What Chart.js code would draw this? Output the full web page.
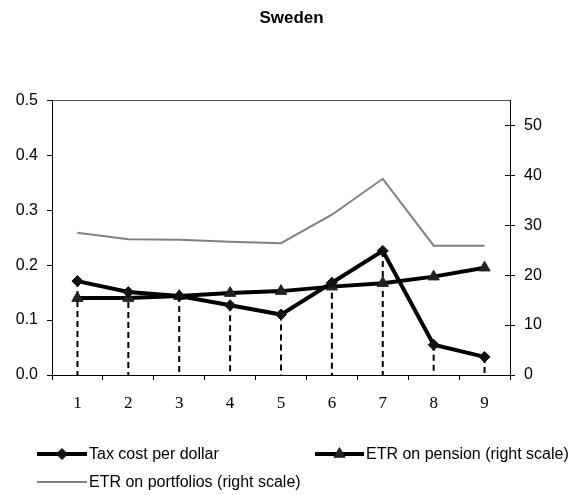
<!DOCTYPE html>
<html>
<head>
<meta charset="utf-8">
<script src="https://cdn.jsdelivr.net/npm/chart.js@4/dist/chart.umd.min.js"></script>
<style>
  html, body { margin: 0; padding: 0; background: #ffffff; }
  #wrap { width: 583px; height: 495px; }
</style>
</head>
<body>
<div id="wrap"><canvas id="c" width="583" height="495"></canvas></div>
<script>
// Categories along the horizontal axis
const categories = ['1', '2', '3', '4', '5', '6', '7', '8', '9'];
// Left scale: tax cost per dollar
const taxCost = [0.171, 0.151, 0.144, 0.127, 0.110, 0.168, 0.226, 0.055, 0.033];
// Right scale: effective tax rates (%)
const etrPension = [15.4, 15.4, 15.8, 16.4, 16.8, 17.7, 18.4, 19.7, 21.5];
const etrPortfolios = [28.5, 27.2, 27.1, 26.7, 26.4, 32.1, 39.3, 25.9, 25.9];
// Axis tick values
const leftTicks = [0, 0.1, 0.2, 0.3, 0.4, 0.5];
const rightTicks = [0, 10, 20, 30, 40, 50];

const SANS = "'Liberation Sans', Arial, Helvetica, sans-serif";
const SERIF = "'Liberation Serif', 'Times New Roman', serif";

// Dashed drop lines from each tax-cost point down to the horizontal axis
const dropLines = {
  id: 'dropLines',
  beforeDatasetsDraw(chart) {
    const meta = chart.getDatasetMeta(0);
    const yScale = chart.scales.y;
    const ctx = chart.ctx;
    ctx.save();
    ctx.strokeStyle = '#000';
    ctx.lineWidth = 2;
    ctx.setLineDash([6, 4]);
    meta.data.forEach(pt => {
      ctx.beginPath();
      ctx.moveTo(pt.x, pt.y);
      ctx.lineTo(pt.x, yScale.getPixelForValue(0));
      ctx.stroke();
    });
    ctx.restore();
  },
  afterDraw(chart) {
    // right axis tick marks cross the axis line
    const y2 = chart.scales.y2;
    const ctx = chart.ctx;
    ctx.save();
    ctx.strokeStyle = '#000';
    ctx.lineWidth = 1;
    y2.ticks.forEach(t => {
      const py = Math.round(y2.getPixelForValue(t.value)) + 0.5;
      ctx.beginPath();
      ctx.moveTo(y2.left - 5, py);
      ctx.lineTo(y2.left, py);
      ctx.stroke();
    });
    ctx.restore();
  }
};

// Legend drawn under the plot: two items on the first row, one on the second
const bottomLegend = {
  id: 'bottomLegend',
  afterDraw(chart) {
    const ctx = chart.ctx;
    const slots = [
      { ds: 0, x: 37, y: 454, len: 50 },
      { ds: 1, x: 315, y: 454, len: 49 },
      { ds: 2, x: 37, y: 482, len: 50 }
    ];
    ctx.save();
    slots.forEach(s => {
      const ds = chart.data.datasets[s.ds];
      ctx.strokeStyle = ds.borderColor;
      ctx.lineWidth = ds.borderWidth;
      ctx.setLineDash([]);
      ctx.beginPath();
      ctx.moveTo(s.x, s.y);
      ctx.lineTo(s.x + s.len, s.y);
      ctx.stroke();
      if (ds.pointStyle && ds.pointRadius > 0) {
        ctx.fillStyle = ds.pointBackgroundColor;
        ctx.strokeStyle = ds.pointBorderColor;
        ctx.lineWidth = 1;
        Chart.helpers.drawPoint(ctx, {
          pointStyle: ds.pointStyle, radius: ds.pointRadius, rotation: 0, borderWidth: 1
        }, s.x + s.len / 2, s.y);
      }
      ctx.fillStyle = '#000';
      ctx.font = '16px ' + SANS;
      ctx.textBaseline = 'middle';
      ctx.textAlign = 'left';
      ctx.fillText(ds.label, s.x + s.len + 2, s.y + 1);
    });
    ctx.restore();
  }
};

new Chart(document.getElementById('c'), {
  type: 'line',
  data: {
    labels: categories,
    datasets: [
      {
        label: 'Tax cost per dollar',
        data: taxCost,
        yAxisID: 'y',
        borderColor: '#000',
        borderWidth: 4,
        pointStyle: 'rectRot',
        pointRadius: 5.5,
        pointBackgroundColor: '#111',
        pointBorderColor: '#111',
        pointBorderWidth: 1,
        tension: 0
      },
      {
        label: 'ETR on pension (right scale)',
        data: etrPension,
        yAxisID: 'y2',
        borderColor: '#000',
        borderWidth: 4,
        pointStyle: 'triangle',
        pointRadius: 6.5,
        pointBackgroundColor: '#222',
        pointBorderColor: '#222',
        pointBorderWidth: 1,
        tension: 0
      },
      {
        label: 'ETR on portfolios (right scale)',
        data: etrPortfolios,
        yAxisID: 'y2',
        borderColor: '#808080',
        borderWidth: 2,
        pointRadius: 0,
        pointStyle: false,
        tension: 0
      }
    ]
  },
  options: {
    responsive: false,
    animation: false,
    devicePixelRatio: 1,
    layout: { padding: { left: 0, right: 0, top: 0, bottom: 80 } },
    plugins: {
      legend: { display: false },
      tooltip: { enabled: false },
      title: {
        display: true,
        text: 'Sweden',
        color: '#000',
        font: { family: SANS, size: 17, weight: 'bold' },
        padding: { top: 8, bottom: 72 }
      }
    },
    scales: {
      x: {
        offset: true,
        grid: {
          offset: true,
          drawOnChartArea: false,
          drawTicks: true,
          tickLength: 5,
          tickColor: '#000',
          color: '#000'
        },
        border: { display: true, color: '#000', width: 1 },
        ticks: {
          color: '#000',
          padding: 13,
          font: { family: SERIF, size: 17 },
          maxRotation: 0
        },
        afterFit(scale) { scale.height = 40; }
      },
      y: {
        position: 'left',
        min: 0,
        max: 0.5,
        afterBuildTicks(scale) { scale.ticks = leftTicks.map(v => ({ value: v })); },
        grid: {
          drawTicks: true,
          tickLength: 5,
          tickColor: '#000',
          color: ctx => (ctx.tick && ctx.tick.value === 0.5 ? '#555' : 'rgba(0,0,0,0)'),
          lineWidth: 1
        },
        border: { display: true, color: '#000', width: 1 },
        ticks: {
          color: '#000',
          padding: 9,
          font: { family: SANS, size: 16 },
          callback: v => Number(v).toFixed(1)
        },
        afterFit(scale) { scale.width = 52; }
      },
      y2: {
        position: 'right',
        min: 0,
        max: 55,
        afterBuildTicks(scale) { scale.ticks = rightTicks.map(v => ({ value: v })); },
        grid: {
          drawOnChartArea: false,
          drawTicks: true,
          tickLength: 5,
          tickColor: '#000'
        },
        border: { display: true, color: '#000', width: 1 },
        ticks: {
          color: '#000',
          padding: 9,
          font: { family: SANS, size: 16 },
          callback: v => String(v)
        },
        afterFit(scale) { scale.width = 73; }
      }
    }
  },
  plugins: [dropLines, bottomLegend]
});
</script>
</body>
</html>
